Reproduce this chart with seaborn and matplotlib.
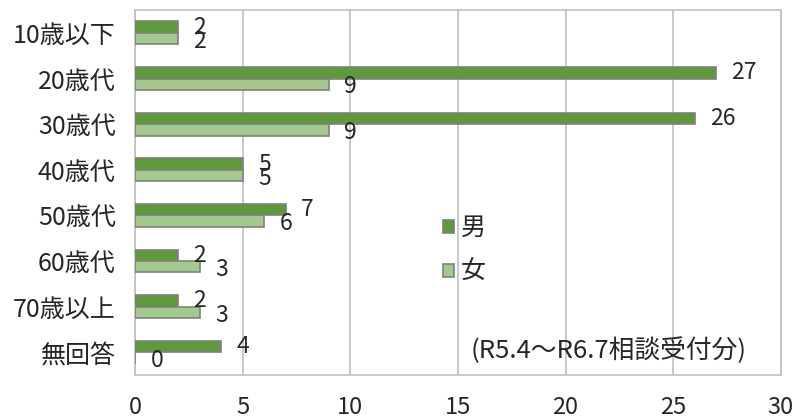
import pandas as pd
import matplotlib
matplotlib.use('Agg')
import matplotlib.pyplot as plt
import seaborn as sns

# 年代別・男女別の相談件数
ages = ['10歳以下', '20歳代', '30歳代', '40歳代', '50歳代', '60歳代', '70歳以上', '無回答']
male = [2, 27, 26, 5, 7, 2, 2, 4]
female = [2, 9, 9, 5, 6, 3, 3, 0]
sexes = ['男', '女']
note = '(R5.4～R6.7相談受付分)'

sns.set_style('white')
plt.rcParams['font.family'] = ['Noto Sans CJK JP', 'DejaVu Sans']

df = pd.DataFrame({
    'age': ages * 2,
    'value': male + female,
    'sex': [sexes[0]] * len(ages) + [sexes[1]] * len(ages),
})

fig = plt.figure(figsize=(7.95, 4.2), dpi=100)
ax = fig.add_axes([0.170, 0.107, 0.812, 0.869])

sns.barplot(data=df, x='value', y='age', hue='sex', orient='h',
            palette=['#5f9a3a', '#a3c98e'], edgecolor='#808080',
            linewidth=1.2, width=0.5, saturation=1, legend=False,
            ax=ax, zorder=3)

# 数値ラベル
for cont, offs in zip(ax.containers, [0, 2]):
    for bar, val in zip(cont, cont.datavalues):
        y = bar.get_y() + bar.get_height() / 2
        ax.annotate(f'{int(val)}', (bar.get_width(), y),
                    xytext=(11, -offs), textcoords='offset points',
                    ha='left', va='center', fontsize=16.5)

ax.set_xlim(0, 30)
ax.set_xticks(range(0, 31, 5))
ax.set_xlabel('')
ax.set_ylabel('')
ax.grid(axis='x', color='#c0c0c0', linewidth=1.2, zorder=0)
ax.grid(axis='y', visible=False)
for sp in ax.spines.values():
    sp.set_color('#c0c0c0')
    sp.set_linewidth(1.2)
ax.tick_params(axis='x', length=0, pad=15, labelsize=17)
ax.tick_params(axis='y', length=0, pad=14, labelsize=18)

handles = [plt.Rectangle((0, 0), 1, 1, facecolor=c, edgecolor='#808080', linewidth=1.2)
           for c in ['#5f9a3a', '#a3c98e']]
ax.legend(handles, sexes, loc='center left', bbox_to_anchor=(0.477, 0.342),
          frameon=False, fontsize=18, handlelength=0.45, handleheight=0.45,
          handletextpad=0.25, labelspacing=0.72, borderpad=0, borderaxespad=0)

ax.text(0.519, 0.068, note, transform=ax.transAxes, fontsize=18.5,
        ha='left', va='center')

fig.savefig('out.png', dpi=100)
